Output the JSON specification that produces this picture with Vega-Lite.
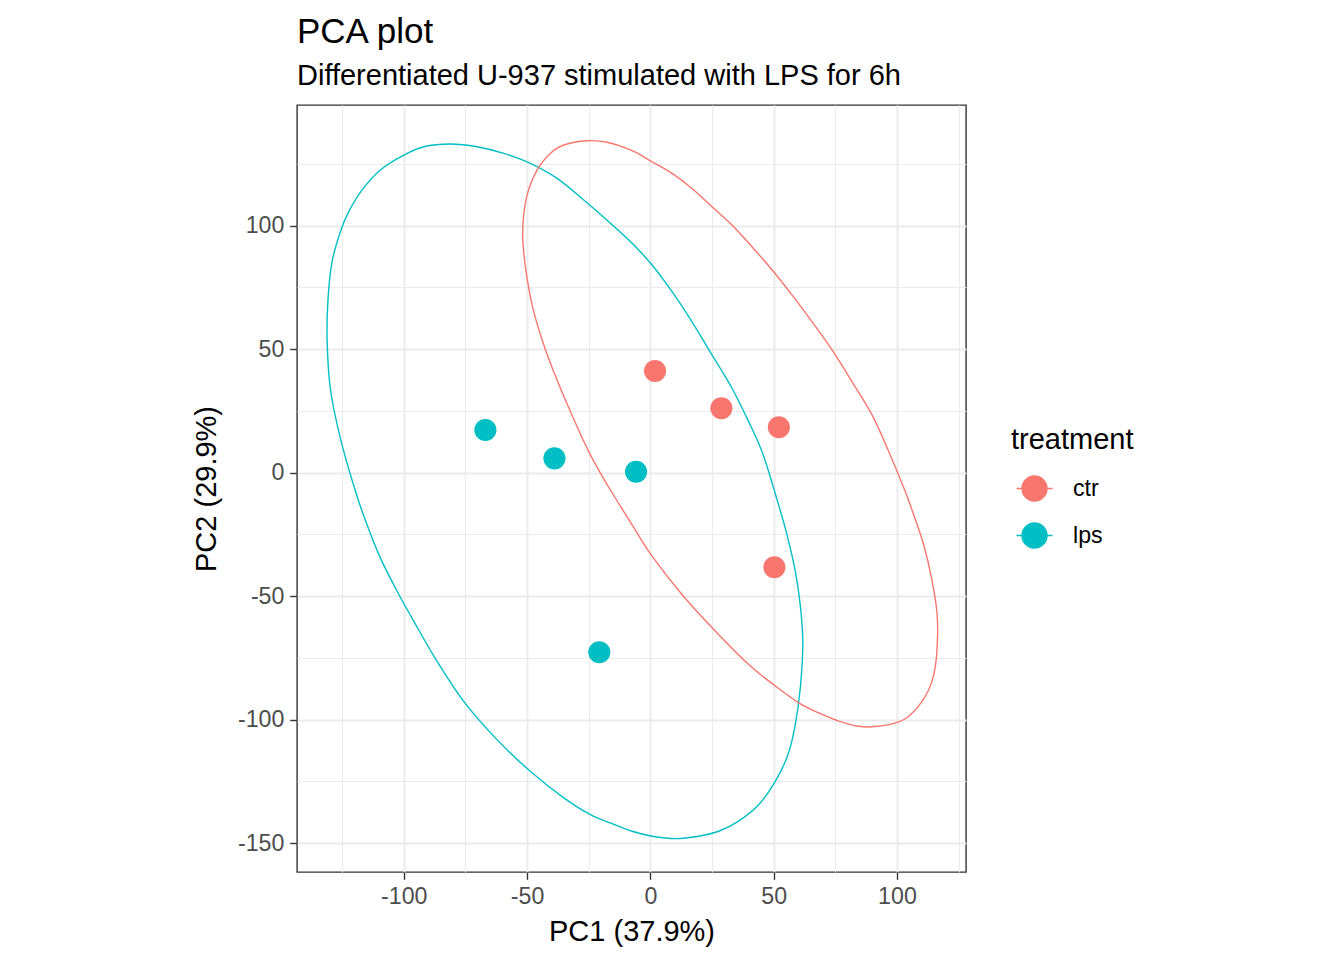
{
  "$schema": "https://vega.github.io/schema/vega-lite/v6.json",
  "autosize": {"type": "none"},
  "width": 669,
  "height": 767,
  "padding": {"left": 297, "top": 105, "right": 378, "bottom": 88},
  "background": "white",
  "title": {
    "text": "PCA plot",
    "subtitle": "Differentiated U-937 stimulated with LPS for 6h",
    "anchor": "start",
    "frame": "group",
    "font": "Liberation Sans",
    "fontSize": 35,
    "fontWeight": "normal",
    "color": "#000000",
    "subtitleFont": "Liberation Sans",
    "subtitleFontSize": 29,
    "subtitleColor": "#000000",
    "subtitlePadding": 12,
    "offset": 14
  },
  "datasets": {
    "pts": [
      {"treatment": "ctr", "PC1": 1.9, "PC2": 41.2},
      {"treatment": "ctr", "PC1": 28.8, "PC2": 26.1},
      {"treatment": "ctr", "PC1": 52.1, "PC2": 18.4},
      {"treatment": "ctr", "PC1": 50.3, "PC2": -38.3},
      {"treatment": "lps", "PC1": -66.9, "PC2": 17.3},
      {"treatment": "lps", "PC1": -38.9, "PC2": 5.8},
      {"treatment": "lps", "PC1": -5.8, "PC2": 0.4},
      {"treatment": "lps", "PC1": -20.7, "PC2": -72.7}
    ],
    "ell": [
      {"treatment": "lps", "i": 1, "PC1": -81.1, "PC2": 133.1},
      {"treatment": "lps", "i": 2, "PC1": -91.9, "PC2": 132.0},
      {"treatment": "lps", "i": 3, "PC1": -100.0, "PC2": 128.6},
      {"treatment": "lps", "i": 4, "PC1": -109.5, "PC2": 122.6},
      {"treatment": "lps", "i": 5, "PC1": -116.9, "PC2": 114.5},
      {"treatment": "lps", "i": 6, "PC1": -122.3, "PC2": 105.7},
      {"treatment": "lps", "i": 7, "PC1": -125.7, "PC2": 97.6},
      {"treatment": "lps", "i": 8, "PC1": -129.1, "PC2": 85.4},
      {"treatment": "lps", "i": 9, "PC1": -130.7, "PC2": 70.6},
      {"treatment": "lps", "i": 10, "PC1": -131.1, "PC2": 54.4},
      {"treatment": "lps", "i": 11, "PC1": -129.8, "PC2": 34.2},
      {"treatment": "lps", "i": 12, "PC1": -125.7, "PC2": 13.9},
      {"treatment": "lps", "i": 13, "PC1": -119.6, "PC2": -7.5},
      {"treatment": "lps", "i": 14, "PC1": -114.9, "PC2": -21.1},
      {"treatment": "lps", "i": 15, "PC1": -109.5, "PC2": -34.5},
      {"treatment": "lps", "i": 16, "PC1": -102.7, "PC2": -48.0},
      {"treatment": "lps", "i": 17, "PC1": -95.9, "PC2": -60.2},
      {"treatment": "lps", "i": 18, "PC1": -86.5, "PC2": -76.4},
      {"treatment": "lps", "i": 19, "PC1": -75.7, "PC2": -92.6},
      {"treatment": "lps", "i": 20, "PC1": -62.2, "PC2": -108.1},
      {"treatment": "lps", "i": 21, "PC1": -48.7, "PC2": -120.9},
      {"treatment": "lps", "i": 22, "PC1": -35.1, "PC2": -131.7},
      {"treatment": "lps", "i": 23, "PC1": -24.3, "PC2": -138.5},
      {"treatment": "lps", "i": 24, "PC1": -14.8, "PC2": -142.4},
      {"treatment": "lps", "i": 25, "PC1": -7.4, "PC2": -145.2},
      {"treatment": "lps", "i": 26, "PC1": 0.7, "PC2": -147.2},
      {"treatment": "lps", "i": 27, "PC1": 10.1, "PC2": -148.2},
      {"treatment": "lps", "i": 28, "PC1": 19.6, "PC2": -147.2},
      {"treatment": "lps", "i": 29, "PC1": 27.7, "PC2": -145.2},
      {"treatment": "lps", "i": 30, "PC1": 35.8, "PC2": -141.1},
      {"treatment": "lps", "i": 31, "PC1": 44.0, "PC2": -134.4},
      {"treatment": "lps", "i": 32, "PC1": 50.7, "PC2": -124.9},
      {"treatment": "lps", "i": 33, "PC1": 55.6, "PC2": -114.7},
      {"treatment": "lps", "i": 34, "PC1": 58.5, "PC2": -103.4},
      {"treatment": "lps", "i": 35, "PC1": 60.8, "PC2": -87.2},
      {"treatment": "lps", "i": 36, "PC1": 61.8, "PC2": -66.9},
      {"treatment": "lps", "i": 37, "PC1": 59.5, "PC2": -44.0},
      {"treatment": "lps", "i": 38, "PC1": 55.4, "PC2": -25.1},
      {"treatment": "lps", "i": 39, "PC1": 50.0, "PC2": -6.3},
      {"treatment": "lps", "i": 40, "PC1": 45.3, "PC2": 8.5},
      {"treatment": "lps", "i": 41, "PC1": 39.9, "PC2": 20.6},
      {"treatment": "lps", "i": 42, "PC1": 33.1, "PC2": 34.2},
      {"treatment": "lps", "i": 43, "PC1": 25.0, "PC2": 47.7},
      {"treatment": "lps", "i": 44, "PC1": 16.9, "PC2": 61.1},
      {"treatment": "lps", "i": 45, "PC1": 8.8, "PC2": 73.3},
      {"treatment": "lps", "i": 46, "PC1": 0.7, "PC2": 84.1},
      {"treatment": "lps", "i": 47, "PC1": -7.4, "PC2": 92.9},
      {"treatment": "lps", "i": 48, "PC1": -16.2, "PC2": 101.0},
      {"treatment": "lps", "i": 49, "PC1": -27.0, "PC2": 110.4},
      {"treatment": "lps", "i": 50, "PC1": -37.8, "PC2": 119.2},
      {"treatment": "lps", "i": 51, "PC1": -48.7, "PC2": 125.3},
      {"treatment": "lps", "i": 52, "PC1": -59.4, "PC2": 129.3},
      {"treatment": "lps", "i": 53, "PC1": -70.3, "PC2": 132.0},
      {"treatment": "ctr", "i": 1, "PC1": -25.7, "PC2": 134.4},
      {"treatment": "ctr", "i": 2, "PC1": -35.1, "PC2": 132.7},
      {"treatment": "ctr", "i": 3, "PC1": -40.6, "PC2": 129.3},
      {"treatment": "ctr", "i": 4, "PC1": -45.9, "PC2": 122.6},
      {"treatment": "ctr", "i": 5, "PC1": -50.0, "PC2": 112.4},
      {"treatment": "ctr", "i": 6, "PC1": -51.6, "PC2": 101.6},
      {"treatment": "ctr", "i": 7, "PC1": -51.6, "PC2": 92.2},
      {"treatment": "ctr", "i": 8, "PC1": -50.0, "PC2": 78.7},
      {"treatment": "ctr", "i": 9, "PC1": -47.3, "PC2": 65.2},
      {"treatment": "ctr", "i": 10, "PC1": -43.2, "PC2": 51.7},
      {"treatment": "ctr", "i": 11, "PC1": -39.2, "PC2": 40.9},
      {"treatment": "ctr", "i": 12, "PC1": -32.4, "PC2": 24.7},
      {"treatment": "ctr", "i": 13, "PC1": -24.3, "PC2": 7.2},
      {"treatment": "ctr", "i": 14, "PC1": -16.7, "PC2": -6.2},
      {"treatment": "ctr", "i": 15, "PC1": -7.4, "PC2": -21.1},
      {"treatment": "ctr", "i": 16, "PC1": 0.7, "PC2": -33.8},
      {"treatment": "ctr", "i": 17, "PC1": 12.9, "PC2": -49.4},
      {"treatment": "ctr", "i": 18, "PC1": 26.4, "PC2": -64.2},
      {"treatment": "ctr", "i": 19, "PC1": 39.9, "PC2": -77.7},
      {"treatment": "ctr", "i": 20, "PC1": 50.7, "PC2": -86.4},
      {"treatment": "ctr", "i": 21, "PC1": 60.2, "PC2": -93.2},
      {"treatment": "ctr", "i": 22, "PC1": 68.3, "PC2": -97.3},
      {"treatment": "ctr", "i": 23, "PC1": 76.4, "PC2": -100.6},
      {"treatment": "ctr", "i": 24, "PC1": 84.5, "PC2": -102.7},
      {"treatment": "ctr", "i": 25, "PC1": 91.2, "PC2": -102.8},
      {"treatment": "ctr", "i": 26, "PC1": 99.4, "PC2": -101.3},
      {"treatment": "ctr", "i": 27, "PC1": 104.8, "PC2": -98.6},
      {"treatment": "ctr", "i": 28, "PC1": 110.2, "PC2": -92.6},
      {"treatment": "ctr", "i": 29, "PC1": 114.2, "PC2": -84.5},
      {"treatment": "ctr", "i": 30, "PC1": 116.1, "PC2": -73.7},
      {"treatment": "ctr", "i": 31, "PC1": 116.3, "PC2": -57.5},
      {"treatment": "ctr", "i": 32, "PC1": 114.0, "PC2": -42.6},
      {"treatment": "ctr", "i": 33, "PC1": 110.8, "PC2": -29.1},
      {"treatment": "ctr", "i": 34, "PC1": 106.3, "PC2": -15.6},
      {"treatment": "ctr", "i": 35, "PC1": 102.8, "PC2": -6.2},
      {"treatment": "ctr", "i": 36, "PC1": 96.7, "PC2": 8.5},
      {"treatment": "ctr", "i": 37, "PC1": 89.9, "PC2": 23.4},
      {"treatment": "ctr", "i": 38, "PC1": 81.8, "PC2": 36.8},
      {"treatment": "ctr", "i": 39, "PC1": 73.7, "PC2": 49.7},
      {"treatment": "ctr", "i": 40, "PC1": 65.6, "PC2": 61.1},
      {"treatment": "ctr", "i": 41, "PC1": 57.5, "PC2": 71.9},
      {"treatment": "ctr", "i": 42, "PC1": 49.4, "PC2": 82.1},
      {"treatment": "ctr", "i": 43, "PC1": 41.2, "PC2": 91.5},
      {"treatment": "ctr", "i": 44, "PC1": 33.1, "PC2": 100.3},
      {"treatment": "ctr", "i": 45, "PC1": 25.0, "PC2": 107.7},
      {"treatment": "ctr", "i": 46, "PC1": 16.9, "PC2": 115.1},
      {"treatment": "ctr", "i": 47, "PC1": 8.8, "PC2": 121.2},
      {"treatment": "ctr", "i": 48, "PC1": 0.7, "PC2": 125.9},
      {"treatment": "ctr", "i": 49, "PC1": -7.4, "PC2": 130.4},
      {"treatment": "ctr", "i": 50, "PC1": -17.6, "PC2": 133.8}
    ]
  },
  "encoding": {
    "x": {
      "field": "PC1",
      "type": "quantitative",
      "title": "PC1 (37.9%)",
      "scale": {"domain": [-143.3, 128.0], "nice": false, "zero": false},
      "axis": {
        "values": [-125, -100, -75, -50, -25, 0, 25, 50, 75, 100, 125],
        "labelExpr": "datum.value % 50 === 0 ? '' + datum.value : ''",
        "gridWidth": {"condition": {"test": "datum.value % 50 === 0", "value": 1.9}, "value": 1},
        "tickOpacity": {"condition": {"test": "datum.value % 50 === 0", "value": 1}, "value": 0},
        "labelPadding": 6.5,
        "titlePadding": 9
      }
    },
    "y": {
      "field": "PC2",
      "type": "quantitative",
      "title": "PC2 (29.9%)",
      "scale": {"domain": [-161.7, 148.9], "nice": false, "zero": false},
      "axis": {
        "values": [-150, -125, -100, -75, -50, -25, 0, 25, 50, 75, 100, 125],
        "labelExpr": "datum.value % 50 === 0 ? '' + datum.value : ''",
        "gridWidth": {"condition": {"test": "datum.value % 50 === 0", "value": 1.9}, "value": 1},
        "tickOpacity": {"condition": {"test": "datum.value % 50 === 0", "value": 1}, "value": 0},
        "titlePadding": 16
      }
    }
  },
  "layer": [
    {
      "data": {"name": "ell"},
      "mark": {"type": "line", "strokeWidth": 1.4, "interpolate": "cardinal-closed"},
      "encoding": {
        "order": {"field": "i", "type": "quantitative"},
        "color": {
          "field": "treatment",
          "type": "nominal",
          "scale": {"domain": ["ctr", "lps"], "range": ["#F8766D", "#00BFC4"]},
          "legend": {
            "title": "treatment",
            "orient": "none",
            "legendX": 714,
            "legendY": 321,
            "padding": 0
          }
        }
      }
    },
    {
      "data": {"name": "pts"},
      "mark": {"type": "point", "filled": true, "shape": "circle", "size": 490, "opacity": 1},
      "encoding": {
        "color": {
          "field": "treatment",
          "type": "nominal",
          "scale": {"domain": ["ctr", "lps"], "range": ["#F8766D", "#00BFC4"]},
          "legend": {
            "title": "treatment",
            "orient": "none",
            "legendX": 714,
            "legendY": 321,
            "padding": 0
          }
        }
      }
    }
  ],
  "config": {
    "font": "Liberation Sans",
    "view": {"stroke": "#333333", "strokeWidth": 1.4},
    "axis": {
      "domain": false,
      "grid": true,
      "gridColor": "#EBEBEB",
      "labelColor": "#4D4D4D",
      "labelFont": "Liberation Sans",
      "labelFontSize": 23.2,
      "titleFont": "Liberation Sans",
      "titleFontSize": 29,
      "titleFontWeight": "normal",
      "titleColor": "#000000",
      "tickColor": "#333333",
      "tickSize": 7.3,
      "tickWidth": 1.4,
      "labelPadding": 5.8,
      "labelOverlap": false,
      "labelFlush": false
    },
    "legend": {
      "labelFont": "Liberation Sans",
      "titleFont": "Liberation Sans",
      "titleFontSize": 29,
      "titleFontWeight": "normal",
      "titleColor": "#000000",
      "titlePadding": 20,
      "labelFontSize": 23.2,
      "labelColor": "#000000",
      "symbolType": "M-1,0A1,1,0,1,1,1,0A1,1,0,1,1,-1,0Z M-1.44,0L1.44,0",
      "symbolSize": 625,
      "symbolStrokeWidth": 1.4,
      "symbolOffset": 10,
      "labelOffset": 25,
      "rowPadding": 16
    }
  }
}
